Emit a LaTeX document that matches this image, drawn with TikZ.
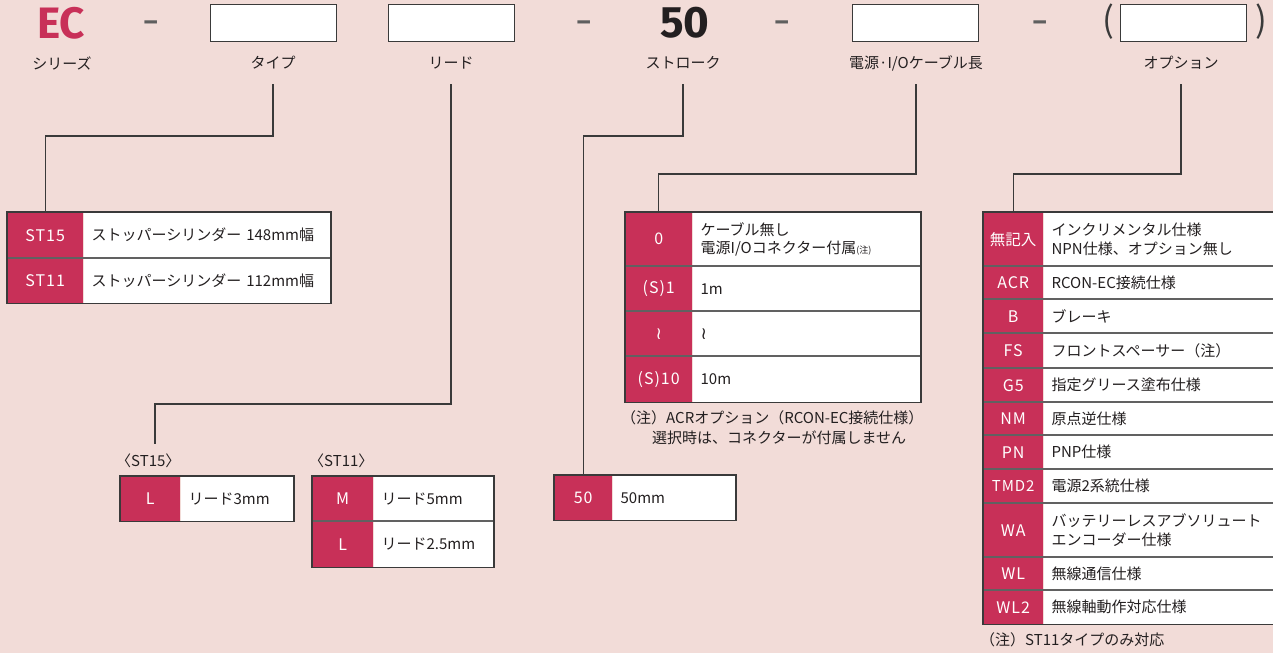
\documentclass[tikz,border=0pt]{standalone}
\usepackage{fontspec}
\setmainfont{Noto Sans CJK JP}
\newfontfamily\redfont{Noto Sans CJK JP}[LetterSpace=6]
\newfontfamily\bigfont{Fira Sans}
\newfontfamily\symfont{DejaVu Sans}
\definecolor{bg}{RGB}{242,220,216}
\definecolor{crim}{RGB}{200,48,88}
\definecolor{ink}{RGB}{35,31,32}
\definecolor{frame}{RGB}{58,58,58}
\definecolor{dashc}{RGB}{95,95,95}
\newcommand\trow[8]{% name, x, y, red width, text width, height, label, description
  \node[redcell, minimum width=#4pt, minimum height=#6pt] (#1r) at (#2,#3) {#7};
  \node[whitecell, text width=#5pt, minimum height=#6pt] (#1w) at (#1r.north east) {#8};
}
\begin{document}
\begin{tikzpicture}[x=1pt,y=-1pt,
  redcell/.style={fill=crim, text=white, inner sep=0pt, anchor=north west, font=\redfont\fontsize{16}{18}\selectfont},
  whitecell/.style={fill=white, text=ink, inner xsep=8pt, inner ysep=0pt, anchor=north west, align=left, font=\fontsize{15}{18.5}\selectfont},
  tborder/.style={draw=frame, line width=1.4pt},
  tsep/.style={draw=frame!80, line width=1.1pt},
  topbox/.style={draw=frame, fill=white, line width=1.3pt, minimum width=126pt, minimum height=37pt, anchor=north west, inner sep=0pt},
  lbl/.style={text=ink, inner sep=0pt, font=\fontsize{15}{18}\selectfont},
  note/.style={text=ink, inner sep=0pt, anchor=west, font=\fontsize{15}{18}\selectfont},
  big/.style={inner sep=0pt, font=\bigfont\bfseries\fontsize{44}{44}\selectfont},
  dashsym/.style={text=dashc, inner sep=0pt, font=\bfseries\fontsize{28}{28}\selectfont},
  paren/.style={text=frame, inner sep=0pt, font=\fontsize{35}{35}\selectfont},
  conn/.style={draw=frame, line width=1.2pt}
]
\fill[bg] (0,0) rectangle (1273,653);
\useasboundingbox (0,0) rectangle (1273,653);

% top code row
\node[big, text=crim] (ec) at (61,23) {EC};
\node[dashsym] (d1) at (151,26) {–};
\node[topbox] (b1) at (210,4) {};
\node[topbox] (b2) at (388,4) {};
\node[dashsym] (d2) at (584,26) {–};
\node[big, text=ink] (fifty) at (685,23) {50};
\node[dashsym] (d3) at (782,26) {–};
\node[topbox] (b3) at (852,4) {};
\node[dashsym] (d4) at (1040,26) {–};
\node[paren] (po) at (1108,22) {(};
\node[topbox] (b4) at (1120,4) {};
\node[paren] (pc) at (1261,22) {)};

% labels
\node[lbl] (lseries) at (62,63) {シリーズ};
\node[lbl] (ltype) at (273,63) {タイプ};
\node[lbl] (llead) at (451,63) {リード};
\node[lbl] (lstroke) at (683,63) {ストローク};
\node[lbl] (lcable) at (916,63) {電源·I/Oケーブル長};
\node[lbl] (lopt) at (1181,63) {オプション};

% type table
\trow{st15}{7}{212}{76}{231}{46}{ST15}{ストッパーシリンダー 148mm幅}
\trow{st11}{7}{258}{76}{231}{45}{ST11}{ストッパーシリンダー 112mm幅}
\draw[tsep] (st11r.north west) -- (st11w.north east);
\draw[tborder] (st15r.north west) rectangle (st11w.south east);

% lead tables
\node[lbl, anchor=west] (lst15) at (116,461) {〈ST15〉};
\node[lbl, anchor=west] (lst11) at (309,461) {〈ST11〉};
\trow{ll}{120}{476}{60}{97}{45}{L}{リード3mm}
\draw[tborder] (llr.north west) rectangle (llw.south east);
\trow{lm}{312}{476}{61}{104}{45}{M}{リード5mm}
\trow{lk}{312}{521}{61}{104}{46}{L}{リード2.5mm}
\draw[tsep] (lkr.north west) -- (lkw.north east);
\draw[tborder] (lmr.north west) rectangle (lkw.south east);

% stroke table
\trow{str}{554}{475}{58}{107}{45}{50}{50mm}
\draw[tborder] (strr.north west) rectangle (strw.south east);

% cable table
\trow{ca}{625}{212}{67}{212}{54}{0}{ケーブル無し\\電源I/Oコネクター付属{\fontsize{9}{9}\selectfont (注)}}
\trow{cb}{625}{266}{67}{212}{45}{(S)1}{1m}
\trow{cc}{625}{311}{67}{212}{45}{\symfont\fontsize{17}{17}\selectfont ≀}{\symfont\fontsize{17}{17}\selectfont ≀}
\trow{cd}{625}{356}{67}{212}{46}{(S)10}{10m}
\foreach \n in {cb,cc,cd} \draw[tsep] (\n r.north west) -- (\n w.north east);
\draw[tborder] (car.north west) rectangle (cdw.south east);
\node[note] (cnote1) at (621,418) {（注）ACRオプション（RCON-EC接続仕様）};
\node[note] (cnote2) at (652,438) {選択時は、コネクターが付属しません};

% option table
\trow{oa}{983}{212}{60}{221}{54}{\normalfont\fontsize{15.5}{15.5}\selectfont 無記入}{インクリメンタル仕様\\NPN仕様、オプション無し}
\trow{ob}{983}{266}{60}{221}{33}{ACR}{RCON-EC接続仕様}
\trow{oc}{983}{299}{60}{221}{34}{B}{ブレーキ}
\trow{od}{983}{333}{60}{221}{35}{FS}{フロントスペーサー（注）}
\trow{oe}{983}{368}{60}{221}{34}{G5}{指定グリース塗布仕様}
\trow{of}{983}{402}{60}{221}{33}{NM}{原点逆仕様}
\trow{og}{983}{435}{60}{221}{34}{PN}{PNP仕様}
\trow{oh}{983}{469}{60}{221}{34}{\redfont\fontsize{15}{15}\selectfont TMD2}{電源2系統仕様}
\trow{oi}{983}{503}{60}{221}{54}{WA}{バッテリーレスアブソリュート\\エンコーダー仕様}
\trow{oj}{983}{557}{60}{221}{33}{WL}{無線通信仕様}
\trow{ok}{983}{590}{60}{221}{34}{WL2}{無線軸動作対応仕様}
\foreach \n in {ob,oc,od,oe,of,og,oh,oi,oj,ok} \draw[tsep] (\n r.north west) -- (\n w.north east);
\draw[tborder] (oar.north west) rectangle (okw.south east);
\node[note] (onote) at (980,640) {（注）ST11タイプのみ対応};

% connectors
\coordinate (ctype) at (273,84);
\coordinate (clead) at (451,84);
\coordinate (cstroke) at (683,84);
\coordinate (ccable) at (916,84);
\coordinate (copt) at (1181,84);
\coordinate (leadend) at (155,444);
\draw[conn] (ctype) -- (ctype |- 0,136) -| (st15r.north);
\draw[conn] (clead) -- (clead |- 0,404) -| (leadend);
\draw[conn] (cstroke) -- (cstroke |- 0,136) -| (strr.north);
\draw[conn] (ccable) -- (ccable |- 0,174) -| (car.north);
\draw[conn] (copt) -- (copt |- 0,174) -| (oar.north);
\end{tikzpicture}
\end{document}
